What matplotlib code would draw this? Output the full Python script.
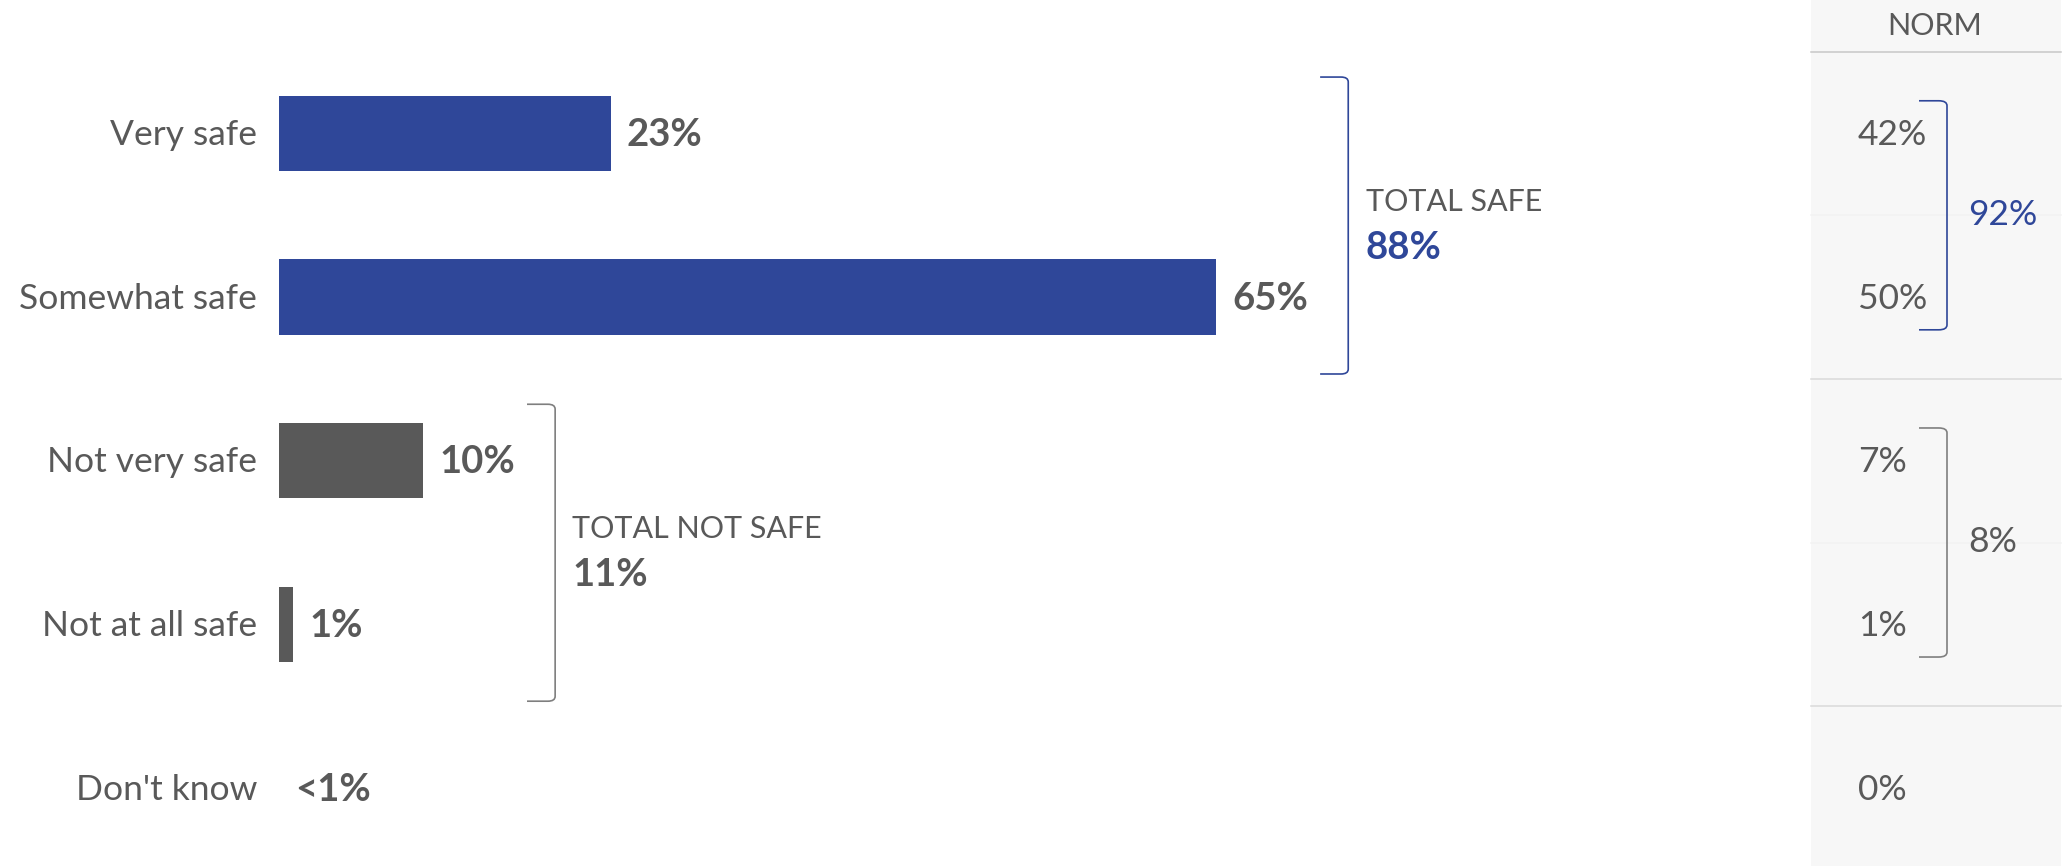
import matplotlib
matplotlib.use("Agg")
import matplotlib.pyplot as plt
import matplotlib.transforms as mtransforms
from matplotlib.path import Path
from matplotlib.patches import PathPatch, Rectangle

plt.rcParams['font.family'] = ['Lato', 'DejaVu Sans']

# survey answers
categories = ["Very safe", "Somewhat safe", "Not very safe", "Not at all safe", "Don't know"]
values = [23, 65, 10, 1, 0]
value_labels = ["23%", "65%", "10%", "1%", "<1%"]

# nets
group_names = ["TOTAL SAFE", "TOTAL NOT SAFE"]
group_rows = [(0, 1), (2, 3)]
group_totals = ["88%", "11%"]

# comparison norm
norm_values = ["42%", "50%", "7%", "1%", "0%"]
norm_totals = ["92%", "8%"]

BLUE = "#2f4799"
DARK = "#595959"
bar_colors = [BLUE, BLUE, DARK, DARK, DARK]
group_colors = [BLUE, "#7f7f7f"]
total_colors = [BLUE, DARK]
norm_total_colors = [BLUE, DARK]

W, H = 2065, 866
PX_PCT = 14.42     # pixels per percentage point
X0 = 279           # pixel position of 0%
ROW = 163.6        # pixels between rows
TOP = 133.5        # pixel position of first row


def bracket(ax, xa, xb, ya, yb, color, transform, dx, dy):
    verts = [(xa, ya), (xb - dx, ya), (xb, ya), (xb, ya + dy),
             (xb, yb - dy), (xb, yb), (xb - dx, yb), (xa, yb)]
    codes = [Path.MOVETO, Path.LINETO, Path.CURVE3, Path.CURVE3,
             Path.LINETO, Path.CURVE3, Path.CURVE3, Path.LINETO]
    ax.add_patch(PathPatch(Path(verts, codes), fill=False, edgecolor=color,
                           lw=1.2, transform=transform, capstyle='butt'))


fig = plt.figure(figsize=(W / 100, H / 100), dpi=100)
ax = fig.add_axes([0, 0, 1, 1])
ax.set_xlim(-X0 / PX_PCT, (W - X0) / PX_PCT)
ax.set_ylim((H - TOP) / ROW, -TOP / ROW)
ax.axis('off')

rows = list(range(len(categories)))
ax.barh(rows, values, height=0.46, color=bar_colors)

for i, (cat, v, lab) in enumerate(zip(categories, values, value_labels)):
    ax.text(-1.5, i + 0.01, cat, ha='right', va='center', fontsize=25.5, color=DARK)
    ax.text(v + 1.1, i + 0.01, lab, ha='left', va='center', fontsize=27.5,
            color=DARK, fontweight='bold')

# net brackets
for name, (r0, r1), tot, col, tcol in zip(group_names, group_rows, group_totals,
                                          group_colors, total_colors):
    vmax = max(values[r0:r1 + 1])
    xa = vmax + 7.2
    xb = xa + 1.95
    bracket(ax, xa, xb, r0 - 0.345, r1 + 0.47, col, ax.transData, 0.5, 0.03)
    mid = (r0 + r1) / 2
    ax.text(xb + 1.2, mid - 0.08, name, ha='left', va='center', fontsize=22,
            color=DARK)
    ax.text(xb + 1.2, mid + 0.2, tot, ha='left', va='center', fontsize=27.5,
            color=tcol, fontweight='bold')

# norm panel
blend = mtransforms.blended_transform_factory(ax.transAxes, ax.transData)
px0, px1 = 1811 / W, 2061 / W
ax.add_patch(Rectangle((px0, -1.0), px1 - px0, 6.0, transform=blend,
                       facecolor="#f7f7f7", edgecolor='none', zorder=0))
for y, c in [(-0.5, "#c8c8c8"), (1.5, "#d9d9d9"), (3.5, "#d9d9d9"),
             (0.5, "#f2f2f2"), (2.5, "#f2f2f2")]:
    ax.plot([px0, px1], [y, y], color=c, lw=1.1, transform=blend, zorder=1)
ax.text(1935 / W, -0.66, "NORM", ha='center', va='center', fontsize=22,
        color=DARK, transform=blend)
for i, nv in enumerate(norm_values):
    ax.text(1858 / W, i + 0.01, nv, ha='left', va='center', fontsize=25.5,
            color=DARK, transform=blend)
for (r0, r1), tot, col, tcol in zip(group_rows, norm_totals, group_colors,
                                    norm_total_colors):
    bracket(ax, 1919 / W, 1947 / W, r0 - 0.2, r1 + 0.2, col, blend, 0.004, 0.03)
    ax.text(1968 / W, (r0 + r1) / 2, tot, ha='left', va='center', fontsize=25.5,
            color=tcol, transform=blend)

fig.savefig("out.png", dpi=100)
